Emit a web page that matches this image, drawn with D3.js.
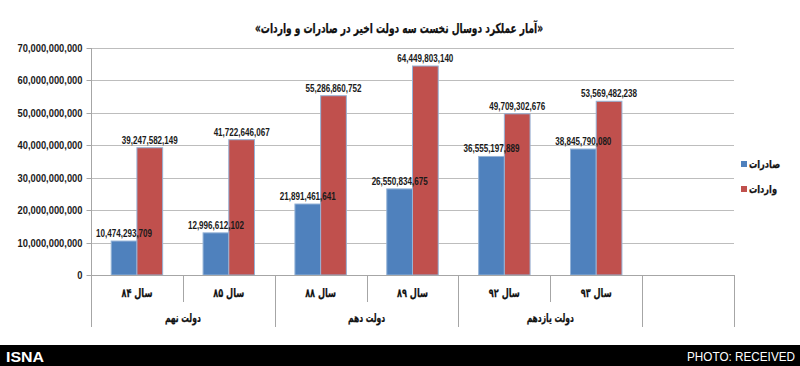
<!DOCTYPE html>
<html><head><meta charset="utf-8">
<script src="https://cdn.jsdelivr.net/npm/d3@7/dist/d3.min.js"></script>
<style>
body{margin:0;background:#fff;}
svg{display:block;}
.num{font-family:"Liberation Sans","Arimo",sans-serif;font-weight:bold;font-size:10.5px;fill:#1a1a1a;}
.ar{font-family:"DejaVu Sans","Noto Sans",sans-serif;font-weight:bold;fill:#111;stroke:#111;stroke-width:0.25px;}
</style></head><body>
<svg id="c" width="800" height="366"></svg>
<script>
const title = "«آمار عملکرد دوسال نخست سه دولت اخیر در صادرات و واردات»";
const years = ["سال ۸۴","سال ۸۵","سال ۸۸","سال ۸۹","سال ۹۲","سال ۹۳"];
const governments = ["دولت نهم","دولت دهم","دولت یازدهم"];
const govSpan = [2,2,2];
const seriesNames = ["صادرات","واردات"];
const exportsVals = [10474293709,12996612102,21891461641,26550834675,36555197889,38845790080];
const importsVals = [39247582149,41722646067,55286860752,64449803140,49709302676,53569482238];
const yTicks = [0,10e9,20e9,30e9,40e9,50e9,60e9,70e9];
const colors = ["#4F81BD","#C0504D"];

function squeeze(sel, factor){
  sel.each(function(){
    const w = this.getComputedTextLength();
    this.setAttribute("textLength", (w*factor).toFixed(2));
    this.setAttribute("lengthAdjust","spacingAndGlyphs");
  });
}

const svg = d3.select("#c");
const slots = years.concat([""]);
const x = d3.scaleBand().domain(d3.range(slots.length)).range([91,734]).paddingInner(0).paddingOuter(0);
const xs = d3.scaleBand().domain([0,1]).range([x.bandwidth()*0.22, x.bandwidth()*0.78]);
const y = d3.scaleLinear().domain([0,70e9]).range([275,48]);

// gridlines
svg.append("g").selectAll("line").data(yTicks.slice(1)).join("line")
  .attr("x1",91).attr("x2",734).attr("y1",d=>Math.round(y(d))+0.5).attr("y2",d=>Math.round(y(d))+0.5)
  .attr("stroke","#bdbdbd").attr("stroke-width",1);

// y axis
const yAxis = d3.axisLeft(y).tickValues(yTicks).tickSize(5).tickPadding(4).tickFormat(d3.format(","));
const ga = svg.append("g").attr("transform","translate(91.5,0)").call(yAxis);
ga.select(".domain").attr("stroke","#a6a6a6").attr("d","M0,48V275");
ga.selectAll(".tick line").attr("stroke","#a6a6a6");
ga.attr("font-size",null).attr("font-family",null);
ga.selectAll(".tick text").attr("class","num").style("font-size","10.5px");
ga.selectAll(".tick").attr("transform",d=>`translate(0,${Math.round(y(d))+0.5})`);
{
  const ref = ga.selectAll(".tick text").filter(d=>d===70e9).node().getComputedTextLength();
  squeeze(ga.selectAll(".tick text"), 65/ref);
}

// bars
const data = years.map((yr,i)=>({i, vals:[exportsVals[i],importsVals[i]]}));
const grp = svg.append("g").selectAll("g").data(data).join("g").attr("transform",d=>`translate(${x(d.i)},0)`);
grp.selectAll("rect").data(d=>d.vals.map((v,k)=>({v,k}))).join("rect")
  .attr("x",d=>xs(d.k)).attr("width",xs.bandwidth())
  .attr("y",d=>y(d.v)).attr("height",d=>y(0)-y(d.v))
  .attr("fill",d=>colors[d.k]).attr("stroke","#95b3d7").attr("stroke-width",1);
const lbl = grp.selectAll("text").data(d=>d.vals.map((v,k)=>({v,k}))).join("text")
  .attr("class","num").attr("text-anchor","middle")
  .attr("x",d=>xs(d.k)+xs.bandwidth()/2).attr("y",d=>y(d.v)-4)
  .text(d=>d3.format(",")(d.v));
{
  const w = lbl.node().getComputedTextLength();
  squeeze(lbl, 56/w);
}

// x axis baseline
svg.append("line").attr("x1",91).attr("x2",734).attr("y1",275.5).attr("y2",275.5).attr("stroke","#a6a6a6");
// category separators
const seps = d3.range(slots.length+1).map(i=> i<slots.length ? x(i) : x.range()[1]);
let govBounds=[0]; govSpan.reduce((a,b)=>{govBounds.push(a+b);return a+b;},0);
svg.append("g").selectAll("line").data(seps.map((s,i)=>({s,i}))).join("line")
  .attr("x1",d=>Math.round(d.s)+0.5).attr("x2",d=>Math.round(d.s)+0.5)
  .attr("y1",275).attr("y2",d=>(govBounds.includes(d.i)||d.i===slots.length)?327:302)
  .attr("stroke","#a6a6a6");

// year labels
const yl = svg.append("g").selectAll("text").data(years).join("text")
  .attr("class","ar").attr("font-size","12px").attr("text-anchor","middle").attr("direction","rtl")
  .attr("x",(d,i)=>x(i)+x.bandwidth()/2).attr("y",297).text(d=>d);
squeeze(yl, 0.68);
// government labels
const gl = svg.append("g").selectAll("text").data(governments).join("text")
  .attr("class","ar").attr("font-size","11.5px").attr("text-anchor","middle").attr("direction","rtl")
  .attr("x",(d,i)=>(x(govBounds[i])+x(govBounds[i+1]-1)+x.bandwidth())/2).attr("y",322).text(d=>d);
squeeze(gl, 0.66);

// title
const tt = svg.append("text").attr("class","ar").attr("font-size","13.5px").attr("text-anchor","middle").attr("direction","rtl")
  .attr("x",399).attr("y",33).text(title);
squeeze(tt, 288/tt.node().getComputedTextLength());

// legend
const lg = svg.append("g").selectAll("g").data(seriesNames).join("g")
  .attr("transform",(d,i)=>`translate(741,${161+i*25})`);
lg.append("rect").attr("width",6).attr("height",6).attr("fill",(d,i)=>colors[i]);
const lt = lg.append("text").attr("class","ar").attr("font-size","11px").attr("x",8).attr("y",7).attr("text-anchor","start").text(d=>d);
squeeze(lt, 0.75);

// footer
svg.append("rect").attr("x",0).attr("y",345).attr("width",800).attr("height",21).attr("fill","#000");
svg.append("text").attr("x",6).attr("y",362).attr("fill","#fff")
  .attr("font-family","'Liberation Sans',sans-serif").attr("font-weight","bold").attr("font-size","15px")
  .attr("textLength",38).attr("lengthAdjust","spacingAndGlyphs").text("ISNA");
svg.append("text").attr("x",795).attr("y",361).attr("fill","#fff").attr("text-anchor","end")
  .attr("font-family","'Liberation Sans',sans-serif").attr("font-size","12px")
  .attr("textLength",108).attr("lengthAdjust","spacingAndGlyphs").text("PHOTO: RECEIVED");
</script></body></html>
